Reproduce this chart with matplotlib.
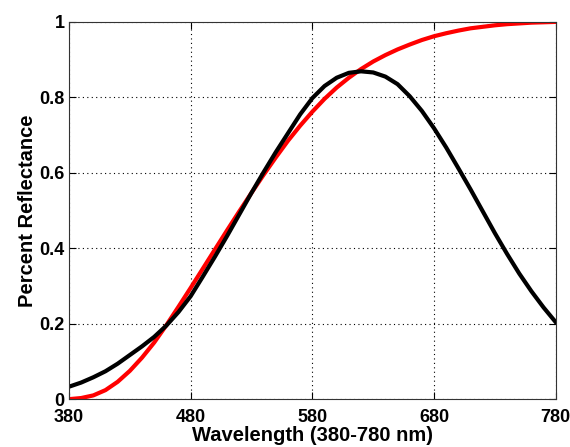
import matplotlib
matplotlib.use("Agg")
import matplotlib.pyplot as plt

# wavelength samples (nm), every 10 nm
wavelength = [380, 390, 400, 410, 420, 430, 440, 450, 460, 470,
              480, 490, 500, 510, 520, 530, 540, 550, 560, 570,
              580, 590, 600, 610, 620, 630, 640, 650, 660, 670,
              680, 690, 700, 710, 720, 730, 740, 750, 760, 770, 780]

red_curve = [0.000, 0.003, 0.010, 0.024, 0.046, 0.075, 0.110, 0.150, 0.196, 0.245,
             0.295, 0.346, 0.397, 0.448, 0.498, 0.547, 0.595, 0.641, 0.685, 0.725,
             0.762, 0.796, 0.826, 0.852, 0.875, 0.895, 0.912, 0.927, 0.940, 0.952,
             0.962, 0.970, 0.977, 0.983, 0.987, 0.991, 0.994, 0.996, 0.998, 0.999, 1.000]

black_curve = [0.033, 0.044, 0.058, 0.074, 0.094, 0.117, 0.140, 0.165, 0.195, 0.231,
               0.273, 0.325, 0.378, 0.433, 0.490, 0.547, 0.602, 0.655, 0.705, 0.755,
               0.798, 0.830, 0.852, 0.865, 0.869, 0.866, 0.855, 0.835, 0.803, 0.764,
               0.718, 0.667, 0.612, 0.556, 0.498, 0.440, 0.385, 0.333, 0.286, 0.243, 0.204]

xticks = [380, 480, 580, 680, 780]
yticks = [0, 0.2, 0.4, 0.6, 0.8, 1]
ytick_labels = ["0", "0.2", "0.4", "0.6", "0.8", "1"]

plt.rcParams['font.family'] = ['Liberation Sans', 'DejaVu Sans']
plt.rcParams['font.weight'] = 'bold'

fig = plt.figure(figsize=(5.7, 4.47), dpi=100)
ax = fig.add_axes([0.121, 0.107, 0.854, 0.844])

ax.plot(wavelength, red_curve, color='#ff0000', linewidth=3)
ax.plot(wavelength, black_curve, color='black', linewidth=3)

ax.set_xlim(380, 780)
ax.set_ylim(0, 1)
ax.set_xticks(xticks)
ax.set_yticks(yticks)
ax.set_yticklabels(ytick_labels)
ax.tick_params(direction='in', length=5, width=0.8, top=True, right=True,
               labelsize=13)
ax.tick_params(axis='x', pad=7)
ax.tick_params(axis='y', pad=3)
for lab in ax.get_xticklabels() + ax.get_yticklabels():
    lab.set_fontweight('bold')

ax.grid(True, color='black', linestyle=(0, (1, 3)), linewidth=0.8)
for sp in ax.spines.values():
    sp.set_linewidth(0.8)
    sp.set_color('#333333')

ax.set_xlabel('Wavelength (380-780 nm)', fontsize=14.5, fontweight='bold', labelpad=0)
ax.set_ylabel('Percent Reflectance', fontsize=14.5, fontweight='bold', labelpad=2)

fig.savefig('out.png', dpi=100)
